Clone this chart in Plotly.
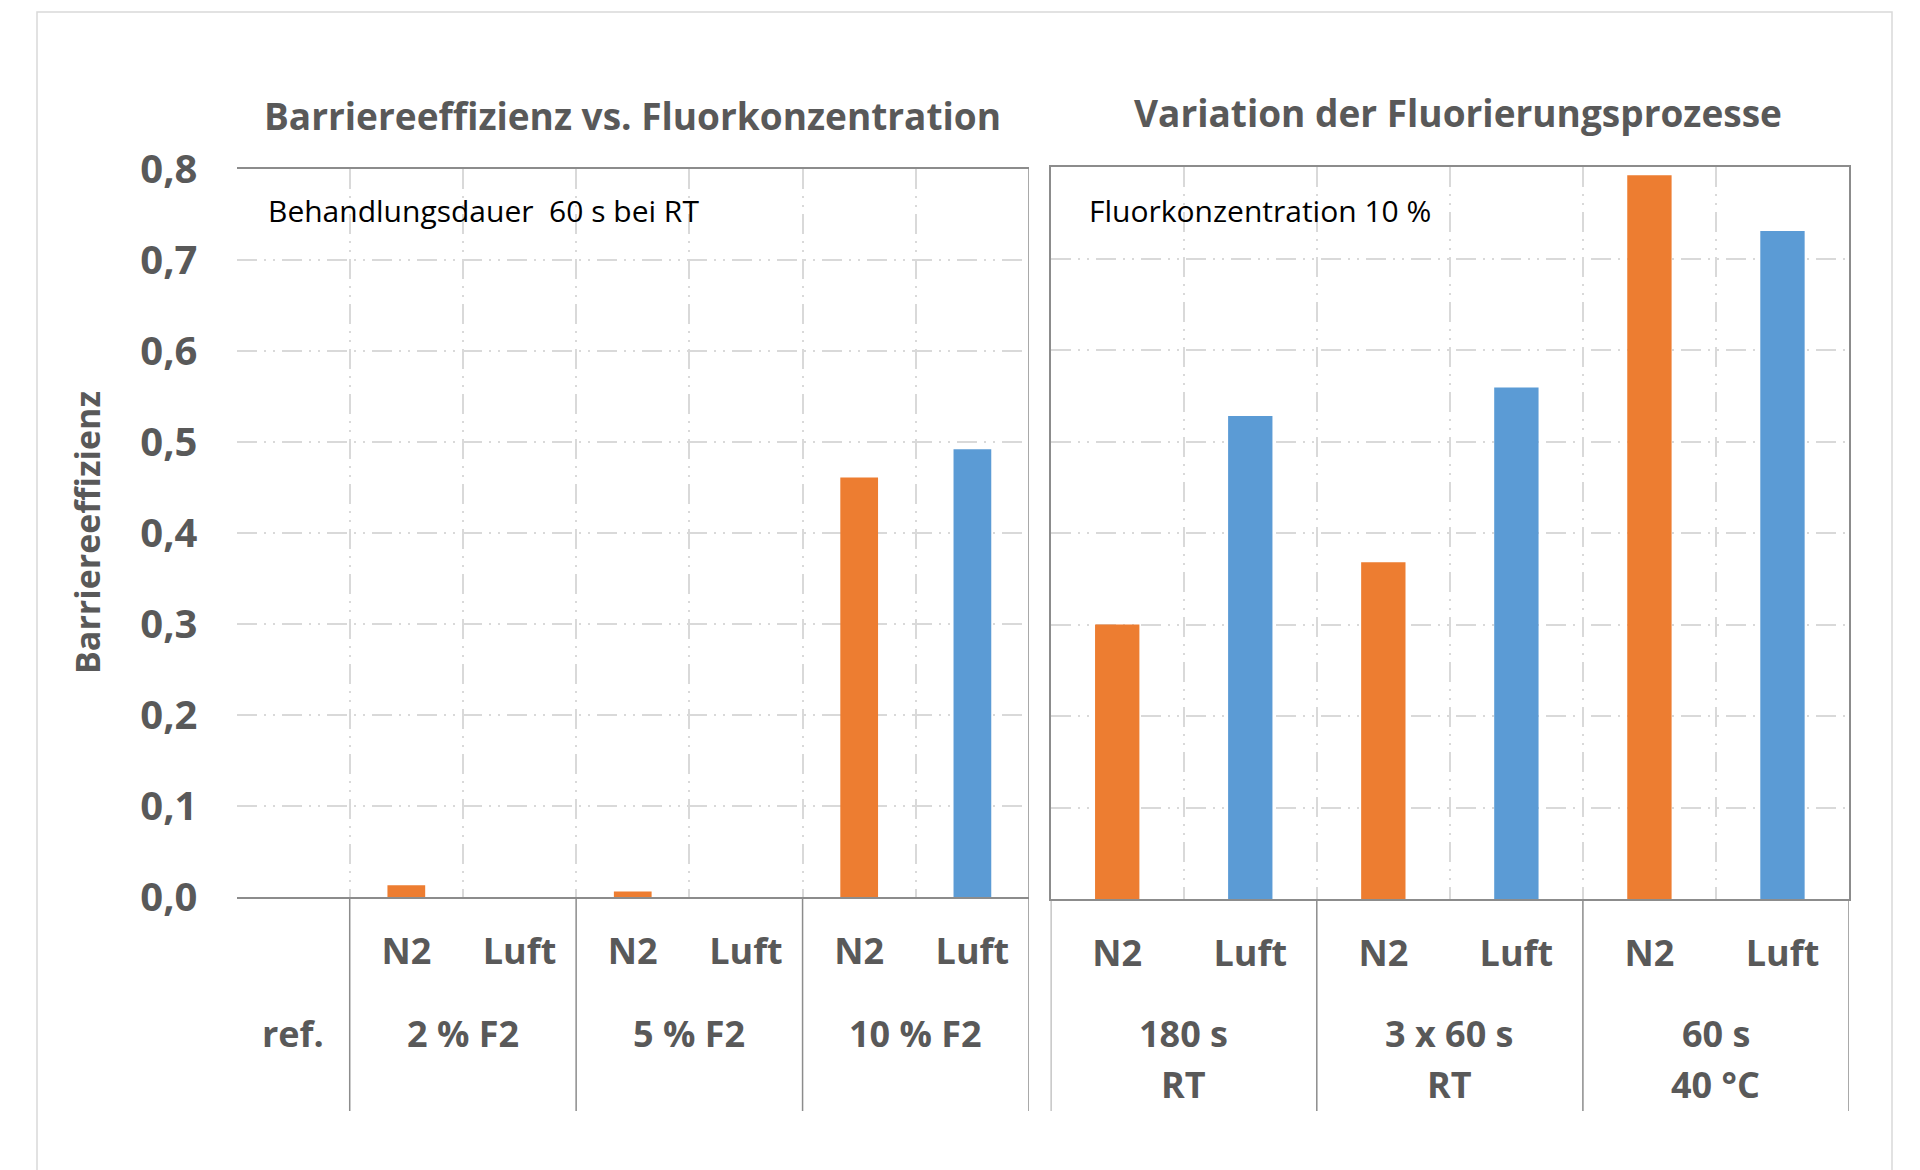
import plotly.graph_objects as go

# ---------------- data ----------------
left_title = "Barriereeffizienz vs. Fluorkonzentration"
right_title = "Variation der Fluorierungsprozesse"
y_title = "Barriereeffizienz"
left_note = "Behandlungsdauer  60 s bei RT"
right_note = "Fluorkonzentration 10 %"

left_groups = ["ref.", "2 % F2", "5 % F2", "10 % F2"]
left_subcats = [[""], ["N2", "Luft"], ["N2", "Luft"], ["N2", "Luft"]]
left_values = [[None], [0.013, 0.0], [0.006, 0.0], [0.461, 0.492]]

right_groups = ["180 s<br>RT", "3 x 60 s<br>RT", "60 s<br>40 °C"]
right_subcats = [["N2", "Luft"], ["N2", "Luft"], ["N2", "Luft"]]
right_values = [[0.300, 0.528], [0.368, 0.559], [0.791, 0.730]]

y_ticks = [0.0, 0.1, 0.2, 0.3, 0.4, 0.5, 0.6, 0.7, 0.8]

series_colors = {"N2": "#ED7D31", "Luft": "#5B9BD5"}

# ---------------- layout constants ----------------
W, H = 1920, 1170
FONT = "Open Sans"
TXT = "#595959"
GRID = "#d9d9d9"
AX = "#8c8c8c"
DASH = "20px,7px,2px,7px,2px,7px"


def px(x):
    return x / W


def py(y):
    return 1 - y / H


def flatten(groups, subcats, values):
    slots, labels, vals, centers, bounds = [], [], [], [], []
    i = 0
    for g, subs, vs in zip(groups, subcats, values):
        start = i
        for s, v in zip(subs, vs):
            slots.append(i)
            labels.append(s)
            vals.append(v)
            i += 1
        centers.append((start + i - 1) / 2)
        bounds.append(start - 0.5)
    bounds.append(i - 0.5)
    return slots, labels, vals, centers, bounds


L = flatten(left_groups, left_subcats, left_values)
R = flatten(right_groups, right_subcats, right_values)

fig = go.Figure()

for (slots, labels, vals, _, _), xa, ya in [(L, "x", "y"), (R, "x2", "y2")]:
    for name, col in series_colors.items():
        xs = [s for s, l, v in zip(slots, labels, vals) if l == name and v is not None]
        ys = [v for s, l, v in zip(slots, labels, vals) if l == name and v is not None]
        fig.add_trace(go.Bar(x=xs, y=ys, name=name, marker=dict(color=col, line=dict(width=0)),
                             width=1 / 3, xaxis=xa, yaxis=ya, showlegend=False))


def xaxis_cfg(dom, slots, labels, nslots, anchor):
    return dict(
        domain=dom, range=[-0.5, nslots - 0.5], tickmode="array", tickvals=slots, ticktext=labels,
        showgrid=False, zeroline=False, showline=True, linecolor=AX, linewidth=1.5, mirror=True,
        ticks="", ticklabelstandoff=22, automargin=False, anchor=anchor,
        tickfont=dict(family=FONT, size=36, color=TXT, weight="bold"),
        minor=dict(tickmode="array", tickvals=[k - 0.5 for k in range(nslots + 1)], showgrid=True,
                   gridcolor=GRID, griddash=DASH, gridwidth=2, ticks=""),
        fixedrange=True,
    )


fig.update_layout(
    width=W, height=H, margin=dict(l=0, r=0, t=0, b=0, pad=0, autoexpand=False),
    paper_bgcolor="white", plot_bgcolor="white", separators=",.",
    barmode="overlay",
    xaxis=xaxis_cfg([px(236.5), px(1029)], L[0], L[1], len(L[0]), "y"),
    xaxis2=xaxis_cfg([px(1050.7), px(1849)], R[0], R[1], len(R[0]), "y2"),
    yaxis=dict(domain=[py(897), py(169)], range=[0, 0.8], tickmode="array", tickvals=y_ticks,
               tickformat=".1f", showgrid=True, gridcolor=GRID, griddash=DASH, gridwidth=2,
               zeroline=False, showline=False, ticks="", ticklabelstandoff=38, anchor="x",
               automargin=False,
               tickfont=dict(family=FONT, size=40, color=TXT, weight="bold"), fixedrange=True),
    yaxis2=dict(domain=[py(899), py(167)], range=[0, 0.8], tickmode="array", tickvals=y_ticks,
                showgrid=True, gridcolor=GRID, griddash=DASH, gridwidth=2, zeroline=False,
                showline=True, linecolor=AX, linewidth=1.5, mirror=True, showticklabels=False,
                ticks="", anchor="x2", automargin=False, fixedrange=True),
)

shapes = []
# outer chart border
shapes.append(dict(type="rect", xref="paper", yref="paper", x0=px(37), x1=px(1892), y0=py(1190), y1=py(12),
                   line=dict(color=GRID, width=1.5), fillcolor="rgba(0,0,0,0)", layer="below"))
# right edge of left plot (solid)
shapes.append(dict(type="line", xref="x", yref="y", x0=len(L[0]) - 0.5, x1=len(L[0]) - 0.5, y0=0, y1=0.8,
                   line=dict(color=AX, width=1.5)))
# group dividers below axis
for b in L[4][1:]:
    shapes.append(dict(type="line", xref="x", yref="paper", x0=b, x1=b, y0=py(897), y1=py(1111),
                       line=dict(color=AX, width=1.5)))
for b in R[4]:
    shapes.append(dict(type="line", xref="x2", yref="paper", x0=b, x1=b, y0=py(899), y1=py(1111),
                       line=dict(color=AX, width=1.5)))
fig.update_layout(shapes=shapes)

BOLD = dict(family=FONT, size=36, color=TXT, weight="bold")
ann = []
for groups, centers, xref in [(left_groups, L[3], "x"), (right_groups, R[3], "x2")]:
    for g, c in zip(groups, centers):
        for k, line in enumerate(g.split("<br>")):
            ann.append(dict(text=line, xref=xref, yref="paper", x=c, y=py(1033 + 51 * k),
                            xanchor="center", yanchor="middle", showarrow=False, font=BOLD))
ann.append(dict(text=left_title, xref="paper", yref="paper", x=px(632), y=py(116), xanchor="center",
                yanchor="middle", showarrow=False, font=dict(BOLD, size=37)))
ann.append(dict(text=right_title, xref="paper", yref="paper", x=px(1458), y=py(113), xanchor="center",
                yanchor="middle", showarrow=False, font=dict(BOLD, size=37)))
ann.append(dict(text=y_title, xref="paper", yref="paper", x=px(87), y=py(533), xanchor="center",
                yanchor="middle", textangle=-90, showarrow=False, font=dict(BOLD, size=34)))
ann.append(dict(text=left_note, xref="paper", yref="paper", x=px(266), y=py(210), xanchor="left",
                yanchor="middle", showarrow=False, font=dict(family=FONT, size=30, color="black")))
ann.append(dict(text=right_note, xref="paper", yref="paper", x=px(1087), y=py(210), xanchor="left",
                yanchor="middle", showarrow=False, font=dict(family=FONT, size=30, color="black")))
fig.update_layout(annotations=ann)

fig.write_html("out.html", config={"displayModeBar": False},
               post_script="document.body.style.margin='0';")
